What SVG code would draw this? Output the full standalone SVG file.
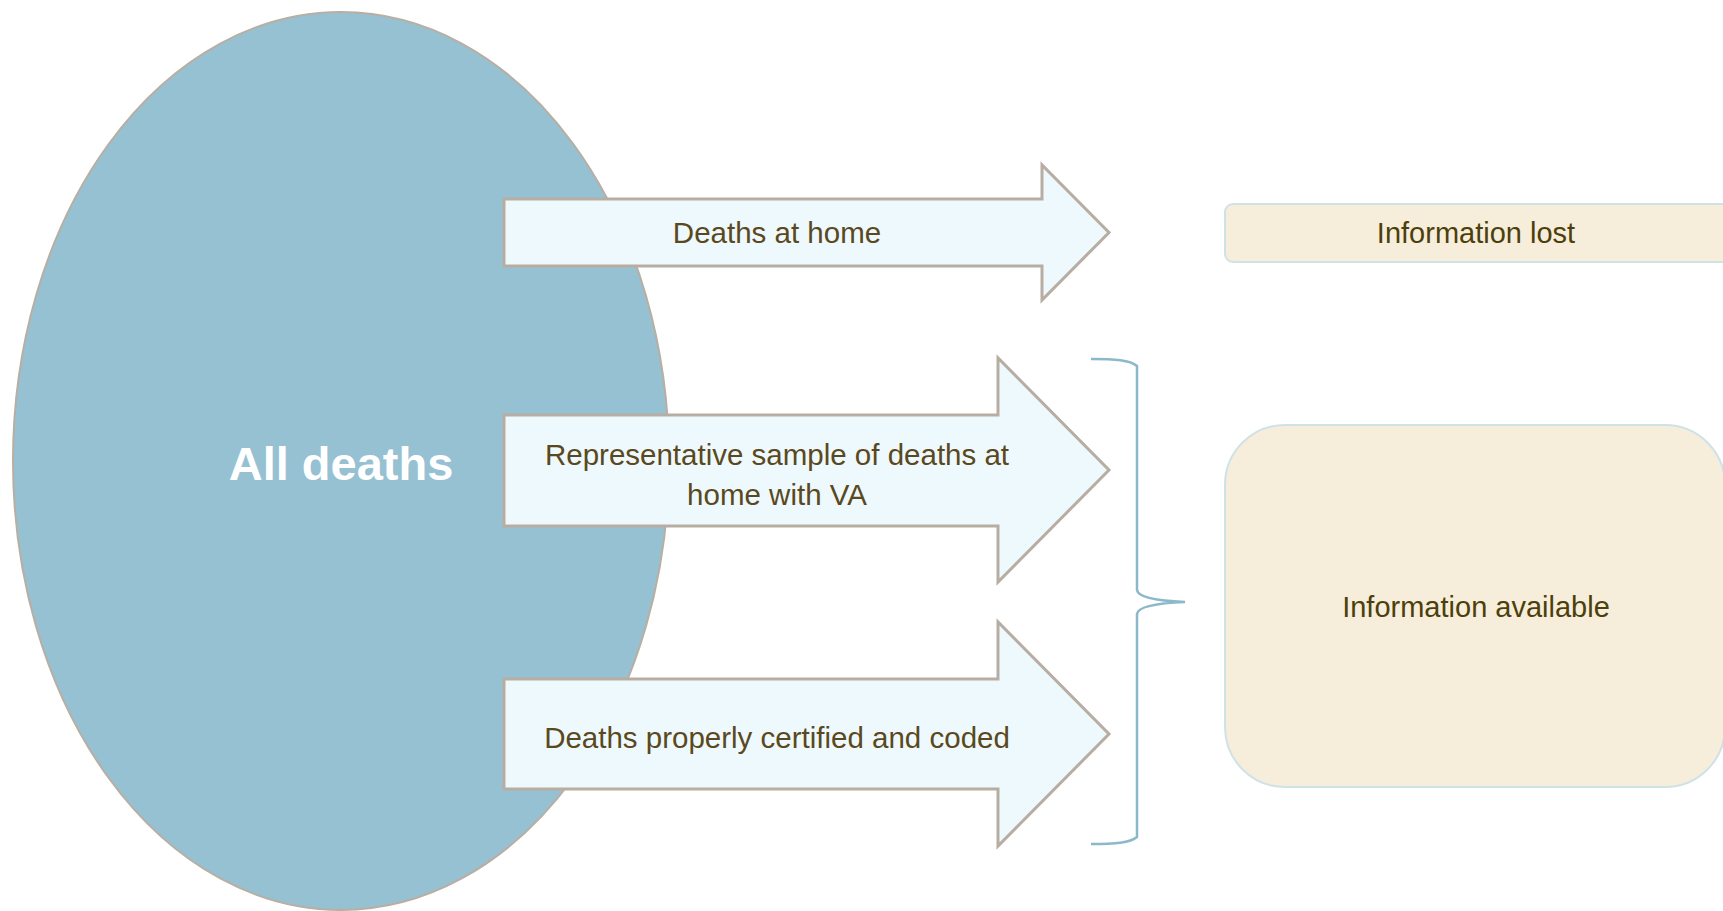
<svg xmlns="http://www.w3.org/2000/svg" width="1723" height="911" viewBox="0 0 1723 911">
  <style>
    .arrow { fill: #EEF9FD; stroke: #B7ADA2; stroke-width: 3; stroke-linejoin: miter; }
    .atext { font-family: "Liberation Sans", Arial, sans-serif; font-size: 29.5px; fill: #5A4920; text-anchor: middle; }
    .box { fill: #F6EEDB; stroke: #CFE2E8; stroke-width: 2; }
    .btext { font-family: "Liberation Sans", Arial, sans-serif; font-size: 29px; fill: #4D3F0C; text-anchor: middle; }
    .brace { fill: none; stroke: #8CB9CA; stroke-width: 2.5; }
  </style>
  <rect width="1723" height="911" fill="#FFFFFF"/>
  <g id="all-deaths">
    <ellipse cx="341" cy="461" rx="328" ry="449" fill="#96C1D3" stroke="#B8AEA2" stroke-width="2"/>
    <text x="341" y="480" font-family="Liberation Sans, Arial, sans-serif" font-size="47" font-weight="bold" fill="#FFFFFF" text-anchor="middle">All deaths</text>
  </g>
  <g id="arrow-home">
    <polygon class="arrow" points="504,199 1042,199 1042,165 1109,232.5 1042,300 1042,266 504,266"/>
    <text class="atext" x="777" y="243">Deaths at home</text>
  </g>
  <g id="arrow-va">
    <polygon class="arrow" points="504,415 998,415 998,358 1109,470 998,582 998,526 504,526"/>
    <text class="atext" x="777" y="465">Representative sample of deaths at</text>
    <text class="atext" x="777" y="505">home with VA</text>
  </g>
  <g id="arrow-certified">
    <polygon class="arrow" points="504,679 998,679 998,622 1109,734 998,846 998,789 504,789"/>
    <text class="atext" x="777" y="748">Deaths properly certified and coded</text>
  </g>
  <g id="info-lost">
    <rect class="box" x="1225" y="204" width="510" height="58" rx="8"/>
    <text class="btext" x="1476" y="243">Information lost</text>
  </g>
  <g id="info-available">
    <rect class="box" x="1225" y="425" width="500" height="362" rx="60"/>
    <text class="btext" x="1476" y="617">Information available</text>
  </g>
  <g id="connectors">
    <path class="brace" d="M1091,359 C1115,359 1130,360 1137,366 L1137,590 C1138,598 1160,601 1185,602 C1160,603 1138,606 1137,614 L1137,837 C1130,843 1115,844 1091,844"/>
  </g>
</svg>
